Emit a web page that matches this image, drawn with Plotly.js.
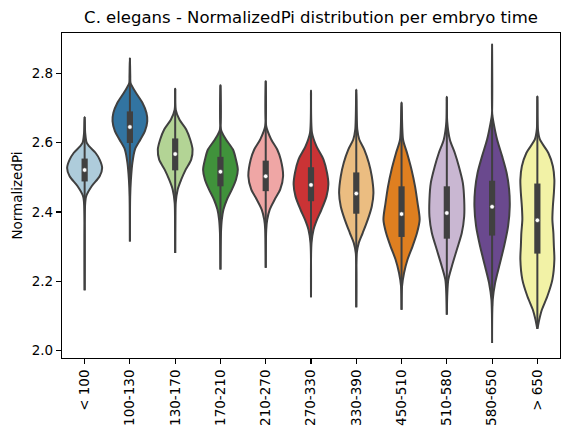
<!DOCTYPE html>
<html>
<head>
<meta charset="utf-8">
<script src="https://cdn.plot.ly/plotly-3.0.1.min.js"></script>
<style>
  html, body { margin: 0; padding: 0; background: #fff; }
  #chart { width: 569px; height: 436px; }
</style>
</head>
<body>
<div id="chart"></div>
<script>
// Embryo time bins (minutes)
const categories = ["< 100", "100-130", "130-170", "170-210", "210-270", "270-330",
                    "330-390", "450-510", "510-580", "580-650", "> 650"];

// Paired palette, desaturated as in seaborn categorical plots
const colors = ["#aeccdb", "#3274a1", "#b3d495", "#40923b", "#efa6a5", "#ca3335",
                "#ebbd81", "#df7f20", "#c9b7d2", "#6a498e", "#f2f2a6"];

// Box summary per bin
const whiskerLow  = [2.174, 2.315, 2.282, 2.234, 2.239, 2.154, 2.125, 2.118, 2.104, 2.128, 2.063];
const whiskerHigh = [2.674, 2.844, 2.755, 2.765, 2.777, 2.750, 2.753, 2.716, 2.732, 2.681, 2.734];
const q1          = [2.488, 2.599, 2.520, 2.474, 2.460, 2.431, 2.395, 2.328, 2.323, 2.332, 2.280];
const q3          = [2.554, 2.690, 2.612, 2.559, 2.548, 2.529, 2.514, 2.474, 2.474, 2.490, 2.482];
const medians     = [2.521, 2.645, 2.567, 2.516, 2.503, 2.478, 2.453, 2.394, 2.397, 2.415, 2.376];

// Kernel density outline per bin: NormalizedPi levels and relative density (1 = widest)
const densityY = [
  [2.674, 2.628, 2.600, 2.589, 2.570, 2.551, 2.527, 2.503, 2.474, 2.445, 2.416, 2.174],
  [2.844, 2.791, 2.772, 2.744, 2.715, 2.686, 2.662, 2.633, 2.609, 2.580, 2.542, 2.493, 2.445, 2.315],
  [2.755, 2.695, 2.666, 2.638, 2.609, 2.580, 2.551, 2.522, 2.493, 2.465, 2.426, 2.387, 2.282],
  [2.765, 2.638, 2.609, 2.580, 2.551, 2.522, 2.493, 2.465, 2.436, 2.407, 2.378, 2.340, 2.234],
  [2.777, 2.647, 2.609, 2.580, 2.551, 2.503, 2.465, 2.436, 2.407, 2.378, 2.349, 2.239],
  [2.750, 2.628, 2.589, 2.551, 2.513, 2.479, 2.445, 2.407, 2.378, 2.349, 2.311, 2.154],
  [2.753, 2.638, 2.609, 2.580, 2.542, 2.503, 2.455, 2.416, 2.378, 2.340, 2.311, 2.282, 2.125],
  [2.716, 2.609, 2.570, 2.522, 2.474, 2.426, 2.378, 2.340, 2.301, 2.263, 2.224, 2.186, 2.118],
  [2.732, 2.662, 2.609, 2.570, 2.532, 2.484, 2.436, 2.387, 2.340, 2.291, 2.243, 2.205, 2.166, 2.104],
  [2.883, 2.681, 2.657, 2.609, 2.561, 2.513, 2.465, 2.416, 2.359, 2.301, 2.243, 2.195, 2.147, 2.022],
  [2.734, 2.638, 2.609, 2.570, 2.532, 2.493, 2.455, 2.416, 2.378, 2.340, 2.301, 2.263, 2.205, 2.157, 2.118, 2.089, 2.070, 2.063]
];
const densityW = [
  [0, 0.03, 0.11, 0.257, 0.608, 0.829, 0.967, 0.829, 0.387, 0.083, 0.02, 0],
  [0, 0.02, 0.036, 0.331, 0.691, 0.912, 0.959, 0.829, 0.580, 0.276, 0.138, 0.055, 0.015, 0],
  [0, 0.028, 0.240, 0.608, 0.829, 0.959, 0.884, 0.580, 0.331, 0.138, 0.028, 0.01, 0],
  [0, 0.028, 0.304, 0.691, 0.856, 0.959, 0.856, 0.635, 0.359, 0.166, 0.075, 0.028, 0],
  [0, 0.028, 0.304, 0.635, 0.829, 0.959, 0.801, 0.497, 0.221, 0.083, 0.028, 0],
  [0, 0.055, 0.304, 0.691, 0.884, 0.959, 0.856, 0.580, 0.331, 0.138, 0.028, 0],
  [0, 0.055, 0.166, 0.442, 0.691, 0.856, 0.948, 0.856, 0.635, 0.359, 0.138, 0.028, 0],
  [0, 0.083, 0.304, 0.552, 0.746, 0.884, 1.0, 0.856, 0.608, 0.331, 0.138, 0.028, 0],
  [0, 0.02, 0.166, 0.442, 0.663, 0.884, 0.959, 0.959, 0.829, 0.552, 0.276, 0.083, 0.028, 0],
  [0, 0.01, 0.083, 0.276, 0.552, 0.801, 0.939, 0.975, 0.884, 0.663, 0.387, 0.166, 0.036, 0],
  [0, 0.03, 0.138, 0.608, 0.856, 0.939, 0.912, 0.856, 0.829, 0.884, 0.912, 0.939, 0.829, 0.552, 0.249, 0.102, 0.028, 0]
];

const HALF_WIDTH = 0.4;       // widest violin spans 0.8 of a category slot
const GRAY = "#404040";
const FONT = "DejaVu Sans, sans-serif";

const traces = [];

// Violin bodies
categories.forEach((cat, i) => {
  const ys = densityY[i], ws = densityW[i];
  const x = [], y = [];
  for (let k = 0; k < ys.length; k++) { x.push(i + HALF_WIDTH * ws[k]); y.push(ys[k]); }
  for (let k = ys.length - 1; k >= 0; k--) { x.push(i - HALF_WIDTH * ws[k]); y.push(ys[k]); }
  traces.push({
    type: "scatter", mode: "lines", x, y,
    fill: "toself", fillcolor: colors[i],
    line: { color: GRAY, width: 2, shape: "spline", smoothing: 0.8 },
    hoverinfo: "skip", showlegend: false
  });
});

// Whiskers
categories.forEach((cat, i) => {
  traces.push({
    type: "scatter", mode: "lines",
    x: [i, i], y: [whiskerLow[i], whiskerHigh[i]],
    line: { color: GRAY, width: 2 }, hoverinfo: "skip", showlegend: false
  });
});

// Interquartile boxes
categories.forEach((cat, i) => {
  traces.push({
    type: "scatter", mode: "lines",
    x: [i, i], y: [q1[i], q3[i]],
    line: { color: GRAY, width: 6.2 }, hoverinfo: "skip", showlegend: false
  });
});

// Medians
traces.push({
  type: "scatter", mode: "markers",
  x: categories.map((c, i) => i), y: medians,
  marker: { color: "white", size: 4.5, line: { color: GRAY, width: 0.6 } },
  hoverinfo: "skip", showlegend: false
});

const layout = {
  width: 569, height: 436,
  margin: { l: 61.5, r: 9, t: 33, b: 78, pad: 0 },
  paper_bgcolor: "white", plot_bgcolor: "white",
  font: { family: FONT, size: 13.5, color: "black" },
  title: {
    text: "C. elegans - NormalizedPi distribution per embryo time",
    font: { family: FONT, size: 16.5, color: "black" },
    x: 0.5, xref: "paper", xanchor: "center",
    y: 1 - 17 / 436, yref: "container", yanchor: "middle"
  },
  xaxis: {
    range: [-0.5, 10.5],
    tickmode: "array", tickvals: categories.map((c, i) => i), ticktext: categories,
    tickangle: -90, ticks: "outside", ticklen: 5, tickwidth: 1.1, tickcolor: "black",
    showline: true, linecolor: "black", linewidth: 1.1, mirror: true,
    showgrid: false, zeroline: false, automargin: false,
    tickfont: { family: FONT, size: 13.5, color: "black" }
  },
  yaxis: {
    range: [1.979, 2.916],
    tick0: 2.0, dtick: 0.2, tickformat: ".1f",
    ticks: "outside", ticklen: 5, tickwidth: 1.1, tickcolor: "black",
    showline: true, linecolor: "black", linewidth: 1.1, mirror: true,
    showgrid: false, zeroline: false, automargin: false,
    tickfont: { family: FONT, size: 13.5, color: "black" },
    title: { text: "NormalizedPi", font: { family: FONT, size: 13.5, color: "black" }, standoff: 6 }
  }
};

Plotly.newPlot("chart", traces, layout, { staticPlot: true, displayModeBar: false });
</script>
</body>
</html>
